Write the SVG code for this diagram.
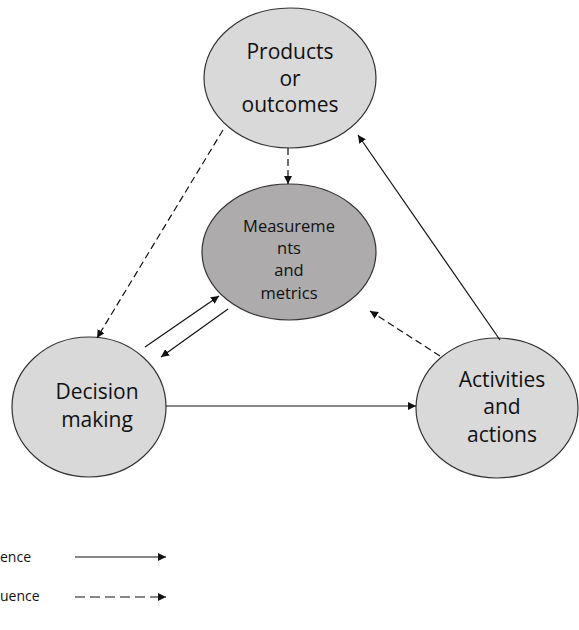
<svg xmlns="http://www.w3.org/2000/svg" width="579" height="630" viewBox="0 0 579 630">
<style>
.node{fill:#d9d9d9;stroke:#333;stroke-width:1.2}
.dark{fill:#adabab}
.t{font-family:"Open Sans","Liberation Sans",sans-serif;font-size:21px;fill:#111;text-anchor:middle}
.ts{font-family:"Open Sans","Liberation Sans",sans-serif;font-size:16.5px;fill:#111;text-anchor:middle}
.lg{font-family:"Open Sans","Liberation Sans",sans-serif;font-size:14px;fill:#111}
.c{stroke:#111;stroke-width:1.2;fill:none;marker-end:url(#ah)}
.d{stroke-dasharray:7 4}
.ld{stroke-dasharray:10 5}
</style>
<defs>
<marker id="ah" viewBox="0 0 10 10" refX="10" refY="5" markerWidth="8" markerHeight="8" markerUnits="userSpaceOnUse" orient="auto">
<path d="M0,0 L10,5 L0,10 z" fill="#111"/>
</marker>
</defs>
<g id="products"><ellipse class="node" cx="290" cy="78" rx="86" ry="70"/>
<text class="t" x="290" y="59">Products</text><text class="t" x="290" y="86">or</text><text class="t" x="290" y="112">outcomes</text></g>
<g id="measurements"><ellipse class="node dark" cx="289" cy="252" rx="87" ry="68"/>
<text class="ts" x="289" y="232">Measureme</text><text class="ts" x="289" y="254">nts</text><text class="ts" x="289" y="276">and</text><text class="ts" x="289" y="299">metrics</text></g>
<g id="decision"><ellipse class="node" cx="89" cy="407" rx="77" ry="70"/>
<text class="t" x="97" y="399">Decision</text><text class="t" x="97" y="427">making</text></g>
<g id="activities"><ellipse class="node" cx="497" cy="408" rx="81" ry="70"/>
<text class="t" x="502" y="387">Activities</text><text class="t" x="502" y="414">and</text><text class="t" x="502" y="442">actions</text></g>
<g id="connectors">
<line class="c d" x1="288" y1="148" x2="288" y2="184"/>
<line class="c d" x1="223" y1="130" x2="97" y2="338"/>
<line class="c" x1="500" y1="340" x2="358" y2="135"/>
<line class="c d" x1="440" y1="356" x2="370" y2="311"/>
<line class="c" x1="166" y1="406" x2="416" y2="406"/>
<line class="c" x1="145" y1="347" x2="219" y2="296"/>
<line class="c" x1="228" y1="309" x2="161" y2="357"/>
</g>
<g id="legend">
<text class="lg" x="0" y="562">ence</text>
<text class="lg" x="0" y="601">uence</text>
<line class="c" x1="75" y1="557" x2="166" y2="557"/>
<line class="c ld" x1="75" y1="597" x2="166" y2="597"/>
</g>
</svg>
